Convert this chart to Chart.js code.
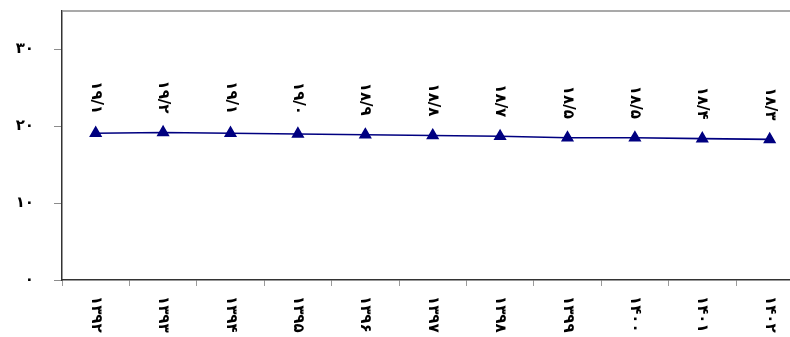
<!DOCTYPE html>
<html>
<head>
<meta charset="utf-8">
<script src="https://cdn.jsdelivr.net/npm/chart.js@4/dist/chart.umd.min.js"></script>
<style>
  html, body { margin: 0; padding: 0; background: #fff; overflow: hidden; }
  #wrap { width: 811px; height: 337px; position: relative; }
</style>
</head>
<body>
<div id="wrap"><canvas id="chart"></canvas></div>
<script>
// years (Persian calendar) and values
const years = ['۱۳۹۲','۱۳۹۳','۱۳۹۴','۱۳۹۵','۱۳۹۶','۱۳۹۷','۱۳۹۸','۱۳۹۹','۱۴۰۰','۱۴۰۱','۱۴۰۲'];
const values = [19.1, 19.2, 19.1, 19.0, 18.9, 18.8, 18.7, 18.5, 18.5, 18.4, 18.3];
const yTicks = [0, 10, 20, 30];

const FONT = '"DejaVu Sans", "Noto Sans", sans-serif';
const NAVY = '#000080';

function toFa(str){
    return String(str).replace(/[0-9]/g, d => '۰۱۲۳۴۵۶۷۸۹'[d]).replace('.', '/');
}

// rotated year labels, value labels and the top frame line
const drawExtras = {
    id: 'drawExtras',
    afterDraw(chart){
        const ctx = chart.ctx;
        const area = chart.chartArea;
        const xScale = chart.scales.x;

        ctx.save();
        ctx.strokeStyle = '#8c8c8c';
        ctx.lineWidth = 1.5;
        ctx.beginPath();
        ctx.moveTo(area.left, area.top);
        ctx.lineTo(area.right, area.top);
        ctx.stroke();

        ctx.fillStyle = '#000';
        ctx.font = 'bold 15px ' + FONT;
        ctx.textBaseline = 'middle';

        years.forEach((label, i) => {
            const x = xScale.getPixelForTick(i);
            ctx.save();
            ctx.translate(x, area.bottom + 16);
            ctx.rotate(Math.PI / 2);
            ctx.textAlign = 'left';
            ctx.fillText(label, 0, 0);
            ctx.restore();
        });

        const meta = chart.getDatasetMeta(0);
        meta.data.forEach((pt, i) => {
            ctx.save();
            ctx.translate(pt.x, pt.y - 19);
            ctx.rotate(Math.PI / 2);
            ctx.textAlign = 'right';
            ctx.fillText(toFa(values[i].toFixed(1)), 0, 0);
            ctx.restore();
        });
        ctx.restore();
    }
};

new Chart(document.getElementById('chart'), {
    type: 'line',
    data: {
        labels: years,
        datasets: [{
            data: values,
            borderColor: NAVY,
            backgroundColor: NAVY,
            borderWidth: 1.6,
            pointStyle: 'triangle',
            pointRadius: 6,
            pointHoverRadius: 6,
            tension: 0
        }]
    },
    options: {
        responsive: true,
        maintainAspectRatio: false,
        animation: false,
        layout: { padding: { top: 11, right: 2 } },
        plugins: {
            legend: { display: false },
            tooltip: { enabled: false }
        },
        scales: {
            x: {
                offset: true,
                grid: {
                    offset: true,
                    drawOnChartArea: false,
                    drawTicks: true,
                    tickLength: 6,
                    color: '#9a9a9a'
                },
                border: { display: true, color: '#333', width: 1.5 },
                ticks: { display: false },
                afterFit(scale){ scale.height = 57; }
            },
            y: {
                min: 0,
                max: 35,
                grid: {
                    drawOnChartArea: false,
                    tickLength: 8,
                    color: '#8c8c8c'
                },
                border: { display: true, color: '#333', width: 1.5 },
                ticks: {
                    stepSize: 10,
                    padding: 20,
                    color: '#000',
                    font: { family: FONT, size: 15, weight: 'bold' },
                    callback: v => toFa(v)
                },
                afterBuildTicks(scale){
                    scale.ticks = yTicks.map(v => ({ value: v }));
                },
                afterFit(scale){
                    scale.width = 62;
                    scale.paddingTop = 0;
                    scale.paddingBottom = 0;
                }
            }
        }
    },
    plugins: [drawExtras]
});
</script>
</body>
</html>
